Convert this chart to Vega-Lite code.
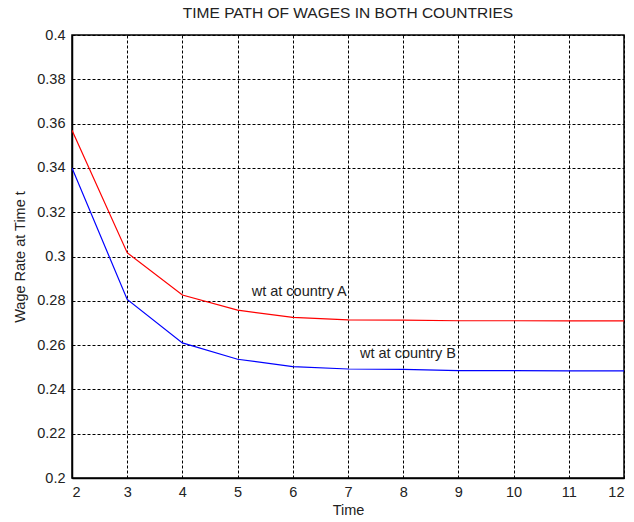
{
  "$schema": "https://vega.github.io/schema/vega-lite/v6.json",
  "width": 552,
  "height": 443,
  "autosize": {"type": "none"},
  "padding": {"left": 72, "top": 35, "right": 10, "bottom": 44},
  "background": "white",
  "title": {
    "text": "TIME PATH OF WAGES IN BOTH COUNTRIES",
    "font": "Liberation Sans",
    "fontSize": 15.5,
    "fontWeight": "normal",
    "color": "#222222",
    "offset": 6,
    "anchor": "middle"
  },
  "config": {
    "view": {"stroke": "black", "strokeWidth": 1.5},
    "axis": {
      "labelFont": "Liberation Sans",
      "titleFont": "Liberation Sans",
      "labelFontSize": 14.5,
      "titleFontSize": 14.5,
      "titleFontWeight": "normal",
      "labelColor": "#222222",
      "titleColor": "#222222",
      "domainColor": "black",
      "domainWidth": 1.5,
      "grid": true,
      "gridColor": "black",
      "gridDash": [3, 2],
      "gridWidth": 1,
      "gridOpacity": 1,
      "ticks": false,
      "labelPadding": 7
    }
  },
  "datasets": {
    "wages": [
      {"time": 2, "wage": 0.357, "country": "A"},
      {"time": 3, "wage": 0.3017, "country": "A"},
      {"time": 4, "wage": 0.2826, "country": "A"},
      {"time": 5, "wage": 0.2758, "country": "A"},
      {"time": 6, "wage": 0.2725, "country": "A"},
      {"time": 7, "wage": 0.2714, "country": "A"},
      {"time": 8, "wage": 0.2713, "country": "A"},
      {"time": 9, "wage": 0.2710, "country": "A"},
      {"time": 10, "wage": 0.2710, "country": "A"},
      {"time": 11, "wage": 0.2709, "country": "A"},
      {"time": 12, "wage": 0.2709, "country": "A"},
      {"time": 2, "wage": 0.340, "country": "B"},
      {"time": 3, "wage": 0.2806, "country": "B"},
      {"time": 4, "wage": 0.261, "country": "B"},
      {"time": 5, "wage": 0.2536, "country": "B"},
      {"time": 6, "wage": 0.2503, "country": "B"},
      {"time": 7, "wage": 0.2492, "country": "B"},
      {"time": 8, "wage": 0.2490, "country": "B"},
      {"time": 9, "wage": 0.2485, "country": "B"},
      {"time": 10, "wage": 0.2485, "country": "B"},
      {"time": 11, "wage": 0.2484, "country": "B"},
      {"time": 12, "wage": 0.2484, "country": "B"}
    ],
    "labels": [
      {"time": 5.255, "wage": 0.2841, "label": "wt at country A"},
      {"time": 7.217, "wage": 0.2558, "label": "wt at country B"}
    ]
  },
  "layer": [
    {
      "data": {"name": "wages"},
      "mark": {"type": "line", "strokeWidth": 1.2, "clip": true},
      "encoding": {
        "x": {
          "field": "time",
          "type": "quantitative",
          "scale": {"domain": [2, 12], "nice": false, "zero": false},
          "axis": {"values": [2, 3, 4, 5, 6, 7, 8, 9, 10, 11, 12], "title": "Time", "titlePadding": 5, "format": "d"}
        },
        "y": {
          "field": "wage",
          "type": "quantitative",
          "scale": {"domain": [0.2, 0.4], "nice": false, "zero": false},
          "axis": {
            "values": [0.2, 0.22, 0.24, 0.26, 0.28, 0.3, 0.32, 0.34, 0.36, 0.38, 0.4],
            "title": "Wage Rate at Time t",
            "titlePadding": 9,
            "format": "~g"
          }
        },
        "color": {
          "field": "country",
          "type": "nominal",
          "scale": {"domain": ["A", "B"], "range": ["#ff0000", "#0000ff"]},
          "legend": null
        }
      }
    },
    {
      "data": {"name": "labels"},
      "mark": {"type": "text", "align": "left", "baseline": "middle", "font": "Liberation Sans", "fontSize": 14.5, "color": "#222222"},
      "encoding": {
        "x": {"field": "time", "type": "quantitative"},
        "y": {"field": "wage", "type": "quantitative"},
        "text": {"field": "label"}
      }
    }
  ]
}
